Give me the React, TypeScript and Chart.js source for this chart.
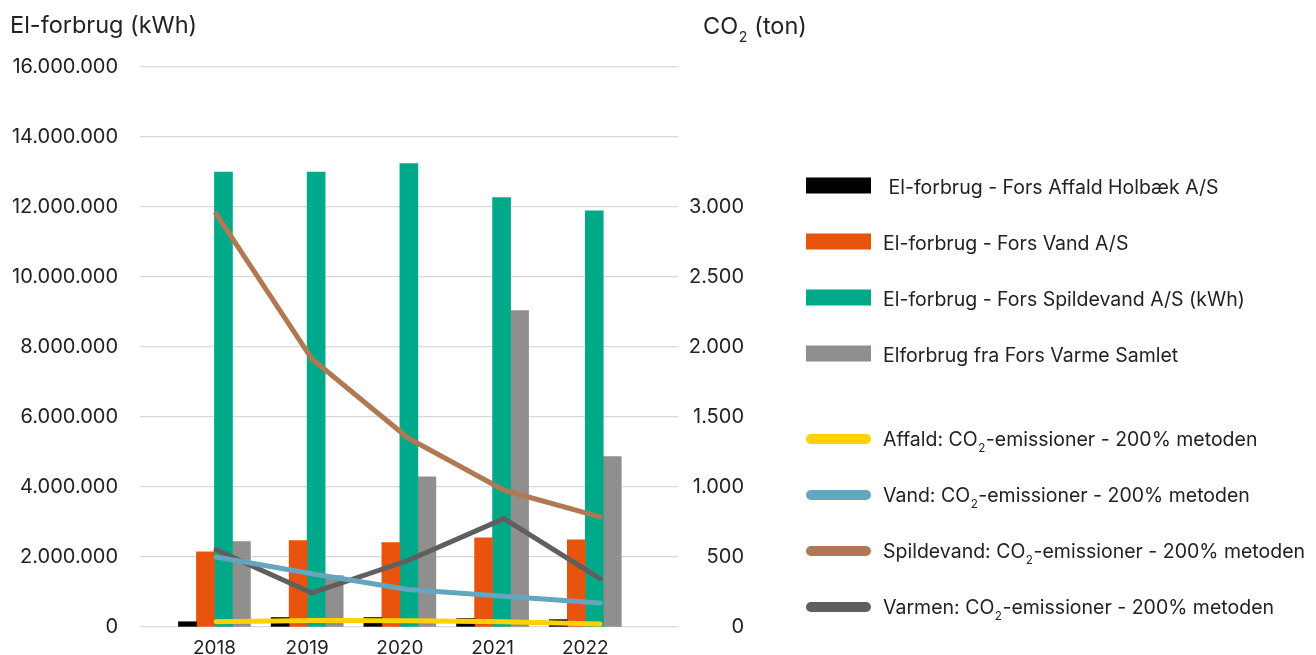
import React, { useEffect, useRef } from 'react';
import { Chart, registerables } from 'chart.js';

Chart.register(...registerables);

// ---------- data ----------
const years = ['2018', '2019', '2020', '2021', '2022'];

// electricity use, kWh (left axis)
const elAffald = [150000, 270000, 270000, 240000, 210000];
const elVand = [2150000, 2470000, 2410000, 2550000, 2490000];
const elSpildevand = [13000000, 13000000, 13240000, 12270000, 11890000];
const elVarme = [2440000, 1470000, 4290000, 9040000, 4870000];

// CO2 emissions, ton (right axis)
const co2Affald = [38, 47, 45, 38, 21];
const co2Vand = [500, 380, 268, 219, 171];
const co2Spildevand = [2952, 1914, 1350, 977, 786];
const co2Varmen = [552, 243, 475, 774, 345];

const barLabels = [
  ' El-forbrug - Fors Affald Holbæk A/S',
  'El-forbrug - Fors Vand A/S',
  'El-forbrug - Fors Spildevand A/S (kWh)',
  'Elforbrug fra Fors Varme Samlet',
];
const lineLabels = [
  'Affald: CO₂-emissioner - 200% metoden',
  'Vand: CO₂-emissioner - 200% metoden',
  'Spildevand: CO₂-emissioner - 200% metoden',
  'Varmen: CO₂-emissioner - 200% metoden',
];
const leftTitle = 'El-forbrug (kWh)';
const rightTitle = 'CO₂ (ton)';

// ---------- style ----------
const FONT = 'Inter';
const TEXT = '#222222';
const GRID = '#d9d9d9';
const barColors = ['#000000', '#E8530E', '#00A98A', '#918F8D'];
const lineColors = ['#FFD100', '#64A5C0', '#B07853', '#5F5F5F'];

// horizontal geometry (layout)
const PLOT_W = 538;
const BAR_PX = 18;
const X_MIN = 2017.197;
const X_MAX = 2023;
const X2_MIN = 2017.208;
const X2_MAX = 2022.8125;

const fmt = (v: number) =>
  Math.round(v)
    .toString()
    .replace(/\B(?=(\d{3})+(?!\d))/g, '.');

function drawRich(ctx: CanvasRenderingContext2D, text: string, x: number, baseline: number, size: number) {
  const parts = text.split('₂');
  let cx = x;
  parts.forEach((p, i) => {
    ctx.font = `${size}px ${FONT}`;
    ctx.fillText(p, cx, baseline);
    cx += ctx.measureText(p).width;
    if (i < parts.length - 1) {
      const s = size * 0.6;
      ctx.font = `${s}px ${FONT}`;
      ctx.fillText('2', cx + 0.5, baseline + size * 0.33);
      cx += ctx.measureText('2').width + 1;
    }
  });
}

const overlayPlugin = {
  id: 'overlay',
  afterDraw(chart: any) {
    const ctx: CanvasRenderingContext2D = chart.ctx;
    const area = chart.chartArea;
    ctx.save();
    ctx.fillStyle = TEXT;
    ctx.textAlign = 'left';
    ctx.textBaseline = 'alphabetic';
    // axis titles
    drawRich(ctx, leftTitle, 10, area.top - 34, 23.5);
    drawRich(ctx, rightTitle, area.right + 25, area.top - 33, 23.5);

    // legend
    const swX = area.right + 128;
    const swW = 65;
    const textX = swX + 77;
    const fs = 19.5;
    let cy = area.top + 120;
    const datasets = chart.data.datasets;
    const items = datasets.slice().sort((a: any, b: any) => a.legendIndex - b.legendIndex);
    items.forEach((ds: any, i: number) => {
      if (i === 4) cy += 28;
      if (ds.type === 'line') {
        ctx.strokeStyle = ds.borderColor;
        ctx.lineWidth = 10;
        ctx.lineCap = 'round';
        ctx.beginPath();
        ctx.moveTo(swX + 5, cy);
        ctx.lineTo(swX + swW - 5, cy);
        ctx.stroke();
      } else {
        ctx.fillStyle = ds.backgroundColor;
        ctx.fillRect(swX, cy - 1.5 - 8, swW, 16);
      }
      ctx.fillStyle = TEXT;
      drawRich(ctx, ds.label, textX, cy + 7, fs);
      cy += 56;
    });
    ctx.restore();
  },
};

export default function App() {
  const ref = useRef<HTMLCanvasElement | null>(null);

  useEffect(() => {
    if (!ref.current) return;
    Chart.defaults.font.family = FONT;
    Chart.defaults.color = TEXT;

    const barData = [elAffald, elVand, elSpildevand, elVarme];
    const lineData = [co2Affald, co2Vand, co2Spildevand, co2Varmen];
    const unitsPerPx = (X_MAX - X_MIN) / PLOT_W;

    // one hidden index axis per bar series, shifted so the bars sit side by side
    const barAxes: any = {};
    barData.forEach((_, i) => {
      const off = (i - 1.5) * BAR_PX * unitsPerPx;
      barAxes['xb' + i] = {
        type: 'linear',
        display: false,
        offset: false,
        min: X_MIN - off,
        max: X_MAX - off,
      };
    });

    const datasets: any[] = [
      ...barData.map((d, i) => ({
        type: 'bar',
        label: barLabels[i],
        data: d,
        backgroundColor: barColors[i],
        borderWidth: 0,
        xAxisID: 'xb' + i,
        yAxisID: 'y',
        grouped: false,
        barThickness: BAR_PX,
        order: 1,
        legendIndex: i,
      })),
      ...lineData.map((d, i) => ({
        type: 'line',
        label: lineLabels[i],
        data: d,
        borderColor: lineColors[i],
        backgroundColor: lineColors[i],
        borderWidth: 5,
        borderCapStyle: 'round',
        borderJoinStyle: 'round',
        pointRadius: 0,
        pointHoverRadius: 0,
        tension: 0,
        fill: false,
        xAxisID: 'x2',
        yAxisID: 'y2',
        order: 0,
        legendIndex: 4 + i,
      })),
    ];

    const chart = new Chart(ref.current, {
      type: 'line',
      data: { labels: years, datasets },
      options: {
        animation: false,
        responsive: true,
        maintainAspectRatio: false,
        layout: { padding: { top: 67, right: 572, left: 0, bottom: 0 } },
        plugins: {
          legend: { display: false },
          tooltip: { enabled: false },
        },
        scales: {
          x: {
            type: 'linear',
            min: X_MIN,
            max: X_MAX,
            offset: false,
            grid: { display: false, offset: false, drawTicks: false },
            border: { display: false },
            ticks: {
              stepSize: 1,
              includeBounds: false,
              autoSkip: false,
              maxRotation: 0,
              padding: 10,
              color: TEXT,
              font: { size: 19 },
              callback: (v: any) => (years.includes(String(v)) ? String(v) : ''),
            },
            afterFit: (s: any) => {
              s.height = 28;
            },
          },
          x2: {
            type: 'linear',
            min: X2_MIN,
            max: X2_MAX,
            offset: false,
            display: false,
          },
          ...barAxes,
          y: {
            position: 'left',
            min: 0,
            max: 16000000,
            grid: { color: GRID, lineWidth: 1.3, drawTicks: false },
            border: { display: false },
            ticks: {
              stepSize: 2000000,
              padding: 22,
              color: TEXT,
              font: { size: 20 },
              callback: (v: any) => fmt(Number(v)),
            },
            afterFit: (s: any) => {
              s.width = 140;
              s.paddingTop = 0;
              s.paddingBottom = 0;
            },
          },
          y2: {
            position: 'right',
            min: 0,
            max: 4000,
            grid: { display: false, drawTicks: false },
            border: { display: false },
            ticks: {
              stepSize: 500,
              padding: 12,
              crossAlign: 'far',
              color: TEXT,
              font: { size: 20 },
              callback: (v: any) => (Number(v) <= 3000 ? fmt(Number(v)) : ''),
            },
            afterFit: (s: any) => {
              s.width = 66;
              s.paddingTop = 0;
              s.paddingBottom = 0;
            },
          },
        },
      } as any,
      plugins: [overlayPlugin],
    });

    return () => chart.destroy();
  }, []);

  return (
    <div style={{ position: 'fixed', left: 0, top: 0, width: 1316, height: 655, background: '#fff' }}>
      <canvas ref={ref} />
    </div>
  );
}
